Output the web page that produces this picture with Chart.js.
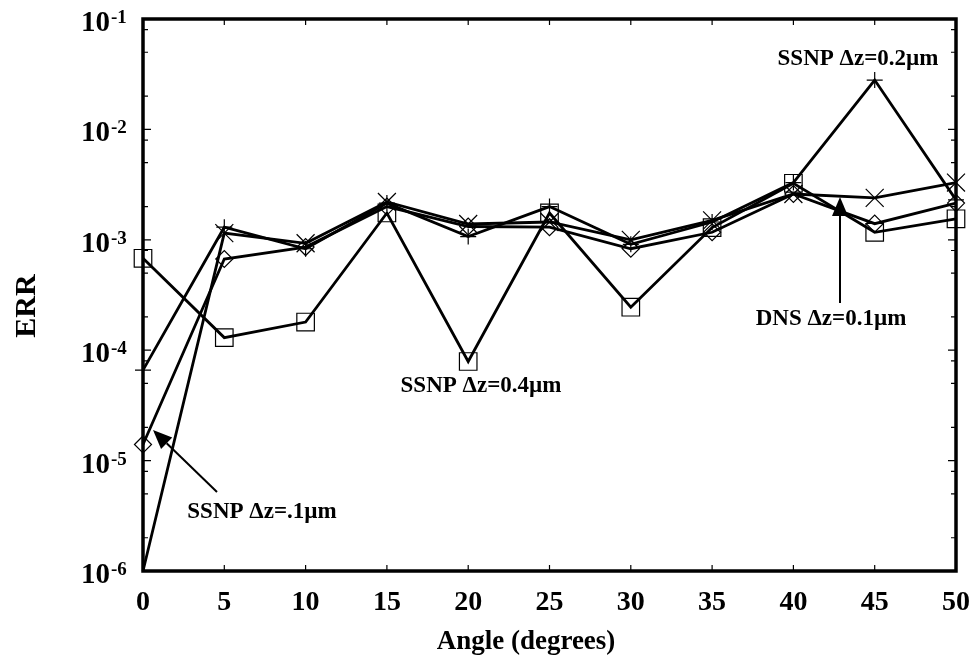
<!DOCTYPE html>
<html>
<head>
<meta charset="utf-8">
<title>ERR vs Angle</title>
<script src="https://cdn.jsdelivr.net/npm/chart.js@4.4.1/dist/chart.umd.min.js"></script>
<style>
  html, body { margin: 0; padding: 0; background: #fff; }
  #chart { display: block; }
</style>
</head>
<body>
<canvas id="chart" width="974" height="663"></canvas>
<script>
// ----- data -----
const ANGLES = [0, 5, 10, 15, 20, 25, 30, 35, 40, 45, 50];

// DNS dz=0.1um  (x markers)
const ERR_DNS_01   = [1.0e-6, 1.15e-3, 9.3e-4, 2.2e-3, 1.39e-3, 1.45e-3, 1.0e-3, 1.5e-3, 2.6e-3, 2.4e-3, 3.3e-3];
// SSNP dz=0.2um (+ markers)
const ERR_SSNP_02  = [6.6e-5, 1.3e-3, 8.3e-4, 2.15e-3, 1.07e-3, 2.0e-3, 9.1e-4, 1.45e-3, 3.3e-3, 2.8e-2, 2.3e-3];
// SSNP dz=.1um  (diamonds)
const ERR_SSNP_01  = [1.4e-5, 6.7e-4, 8.6e-4, 2.0e-3, 1.32e-3, 1.3e-3, 8.3e-4, 1.17e-3, 2.6e-3, 1.4e-3, 2.15e-3];
// SSNP dz=0.4um (squares)
const ERR_SSNP_04  = [6.8e-4, 1.3e-4, 1.8e-4, 1.75e-3, 7.9e-5, 1.75e-3, 2.45e-4, 1.29e-3, 3.25e-3, 1.17e-3, 1.55e-3];

const Y_DECADES = [1e-6, 1e-5, 1e-4, 1e-3, 1e-2, 1e-1];
const Y_MINOR_MULT = [2, 5, 8];

const SERIF = "'Liberation Serif','Times New Roman',serif";
const Y_MIN = 1e-6, Y_MAX = 1e-1;

const pts = (ys) => ANGLES.map((a, i) => ({ x: a, y: ys[i] }));

function series(ys, style, radius){
  return {
    data: pts(ys),
    borderColor: '#000',
    borderWidth: 2.8,
    tension: 0,
    fill: false,
    clip: false,
    pointStyle: style,
    pointRadius: (c) => (c.raw && c.raw.y <= Y_MIN ? 0 : radius),
    pointBorderColor: '#000',
    pointBackgroundColor: 'rgba(0,0,0,0)',
    pointBorderWidth: 1.2
  };
}

// ----- decorations: frame, inner ticks, y labels, titles, annotations -----
const decor = {
  id: 'decor',
  afterDraw(chart){
    const ctx = chart.ctx;
    const a = chart.chartArea;
    const xs = chart.scales.x, ys = chart.scales.y;
    ctx.save();
    ctx.strokeStyle = '#000';
    ctx.fillStyle = '#000';

    // x ticks (inside, top and bottom)
    ctx.lineWidth = 1.2;
    ANGLES.forEach(v => {
      const px = xs.getPixelForValue(v);
      ctx.beginPath();
      ctx.moveTo(px, a.bottom); ctx.lineTo(px, a.bottom - 6);
      ctx.moveTo(px, a.top);    ctx.lineTo(px, a.top + 6);
      ctx.stroke();
    });

    // y ticks, majors + minors, both sides
    Y_DECADES.forEach((d, i) => {
      const py = ys.getPixelForValue(d);
      ctx.beginPath();
      ctx.moveTo(a.left, py);  ctx.lineTo(a.left + 8, py);
      ctx.moveTo(a.right, py); ctx.lineTo(a.right - 8, py);
      ctx.stroke();
      if (i < Y_DECADES.length - 1) {
        Y_MINOR_MULT.forEach(m => {
          const pm = ys.getPixelForValue(d * m);
          ctx.beginPath();
          ctx.moveTo(a.left, pm);  ctx.lineTo(a.left + 5, pm);
          ctx.moveTo(a.right, pm); ctx.lineTo(a.right - 5, pm);
          ctx.stroke();
        });
      }
      // label 10^n
      const exp = Math.round(Math.log10(d));
      ctx.textBaseline = 'alphabetic';
      ctx.font = 'bold 29px ' + SERIF;
      ctx.textAlign = 'right';
      ctx.fillText('10', a.left - 33, py + 12);
      ctx.font = 'bold 19px ' + SERIF;
      ctx.textAlign = 'left';
      ctx.fillText(String(exp), a.left - 32, py + 4);
    });

    // frame
    ctx.lineWidth = 3.5;
    ctx.strokeRect(a.left, a.top, a.right - a.left, a.bottom - a.top);

    // axis titles
    ctx.font = 'bold 27px ' + SERIF;
    ctx.textAlign = 'center';
    ctx.fillText('Angle (degrees)', 526, 649);
    ctx.save();
    ctx.translate(35, 306);
    ctx.rotate(-Math.PI / 2);
    ctx.font = 'bold 30px ' + SERIF;
    ctx.fillText('ERR', 0, 0);
    ctx.restore();

    // annotations
    ctx.font = 'bold 23px ' + SERIF;
    ctx.textAlign = 'center';
    ctx.fillText('SSNP \u0394z=0.2\u00B5m', 858, 65);
    ctx.fillText('DNS \u0394z=0.1\u00B5m', 831, 325);
    ctx.fillText('SSNP \u0394z=0.4\u00B5m', 481, 392);
    ctx.fillText('SSNP \u0394z=.1\u00B5m', 262, 518);

    arrow(ctx, 840, 303, 840, 197);
    arrow(ctx, 217, 492, 153, 430);
    ctx.restore();
  }
};

function arrow(ctx, x0, y0, x1, y1){
  const ang = Math.atan2(y1 - y0, x1 - x0);
  const len = 19, half = 8;
  const bx = x1 - Math.cos(ang) * len, by = y1 - Math.sin(ang) * len;
  ctx.lineWidth = 2;
  ctx.beginPath();
  ctx.moveTo(x0, y0); ctx.lineTo(bx, by);
  ctx.stroke();
  ctx.beginPath();
  ctx.moveTo(x1, y1);
  ctx.lineTo(bx + Math.sin(ang) * half, by - Math.cos(ang) * half);
  ctx.lineTo(bx - Math.sin(ang) * half, by + Math.cos(ang) * half);
  ctx.closePath();
  ctx.fill();
}

new Chart(document.getElementById('chart'), {
  type: 'line',
  data: {
    datasets: [
      series(ERR_DNS_01,  'crossRot', 12.7),
      series(ERR_SSNP_02, 'cross',    8),
      series(ERR_SSNP_01, 'rectRot',  8.5),
      series(ERR_SSNP_04, 'rect',     12.4)
    ]
  },
  options: {
    responsive: false,
    animation: false,
    devicePixelRatio: 1,
    layout: { padding: { top: 19, right: 18, left: 0, bottom: 0 } },
    plugins: { legend: { display: false }, tooltip: { enabled: false } },
    scales: {
      x: {
        type: 'linear',
        min: 0, max: 50,
        grid: { display: false, drawTicks: false },
        border: { display: false },
        ticks: {
          stepSize: 5,
          color: '#000',
          padding: 15,
          maxRotation: 0,
          font: { family: SERIF, size: 28, weight: 'bold' }
        },
        afterFit: (s) => { s.height = 92; s.paddingLeft = 0; s.paddingRight = 0; }
      },
      y: {
        type: 'logarithmic',
        min: Y_MIN, max: Y_MAX,
        grid: { display: false, drawTicks: false },
        border: { display: false },
        ticks: { display: false },
        afterFit: (s) => { s.width = 143; s.paddingTop = 0; s.paddingBottom = 0; }
      }
    }
  },
  plugins: [decor]
});
</script>
</body>
</html>
